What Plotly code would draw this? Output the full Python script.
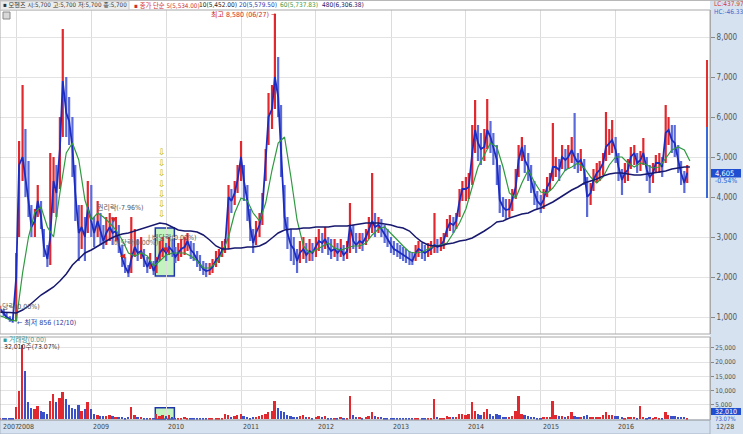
import plotly.graph_objects as go
import pandas as pd

# ---------------- data ----------------
# semi-monthly periods (1st / 15th), Oct-2007 .. Dec-2016
dates = pd.date_range('2007-10-15', '2016-12-15', freq='SMS')

close = (
    [1200, 1100, 1000, 950, 900] +
    [2000, 4800, 5000, 4500, 3900, 3250, 3400, 3900, 3500, 2750, 2450, 3000, 4400, 4100, 5200, 6900, 6100, 5900, 5250, 4100, 3100, 3250, 3000, 3750] +
    [3400, 3100, 3400, 3150, 2900, 3100, 3250, 3100, 3150, 2850, 2450, 2250, 2100, 2450, 2750, 2600, 2650, 2450, 2250, 2400, 2150, 2350, 2600, 2700] +
    [2600, 2750, 2650, 2500, 2600, 2700, 2750, 2900, 2675, 2600, 2425, 2325, 2200, 2150, 2175, 2250, 2425, 2500, 2675, 2750, 4000, 3900, 4100, 4425] +
    [5000, 4400, 3900, 3250, 2850, 3100, 3300, 3700, 4800, 6000, 6200, 7000, 6500, 5200, 3500, 3100, 2800, 2700, 2400, 2600, 2700, 2550, 2650, 2600] +
    [2750, 2900, 2850, 2950, 2750, 2650, 2700, 2600, 2700, 2550, 2650, 3300, 2900, 2800, 2900, 2850, 3000, 3200, 3400, 3250, 3300, 3200, 3050, 2950] +
    [2800, 2700, 2650, 2600, 2550, 2500, 2450, 2400, 2600, 2700, 2650, 2600, 2650, 2700, 2800, 2750, 2800, 2900, 3200, 3350, 3300, 3400, 3900, 4200] +
    [4200, 4250, 5100, 5675, 5350, 5200, 5250, 5675, 5500, 5250, 4925, 3925, 3750, 3675, 3700, 3925, 4250, 4925, 5250, 4925, 4750, 4425, 4100, 3900] +
    [3800, 3925, 4250, 4375, 4750, 4750, 4675, 5000, 4925, 5000, 5175, 5000, 4850, 4925, 4675, 4000, 4100, 4425, 4600, 4675, 4850, 5250, 5350, 5425] +
    [5175, 4750, 4425, 4600, 4675, 5000, 5100, 4850, 4925, 5100, 4675, 4500, 4600, 4850, 4850, 4750, 5600, 5675, 5425, 5350, 4925, 4600, 4350, 4605]
)
high = (
    [1280, 1200, 1100, 1020, 960] +
    [2600, 5400, 6800, 5700, 4900, 3800, 3700, 4300, 3900, 3200, 2800, 5100, 5000, 4800, 6000, 8200, 7000, 6500, 6000, 4800, 3800, 3800, 3500, 4400] +
    [4300, 3500, 3900, 3600, 3300, 3500, 3600, 3500, 3500, 3300, 2800, 2500, 2300, 3500, 3200, 2950, 3000, 2700, 2500, 2600, 2400, 2500, 2900, 3000] +
    [2850, 3000, 2950, 2750, 2850, 2950, 3000, 3100, 2900, 2850, 2650, 2550, 2400, 2350, 2350, 2450, 2650, 2700, 2900, 2950, 4300, 4200, 4400, 4800] +
    [5400, 4800, 4300, 3700, 3200, 3400, 3600, 4100, 5200, 6600, 6800, 8580, 7500, 6300, 4300, 3500, 3200, 3000, 2700, 2900, 3000, 2850, 2950, 2850] +
    [3000, 3200, 3100, 3250, 3000, 2950, 2950, 2850, 2950, 2800, 2900, 3850, 3300, 3100, 3100, 3100, 3200, 3500, 4600, 3600, 3500, 3450, 3300, 3200] +
    [3000, 2900, 2850, 2800, 2750, 2700, 2650, 2600, 2800, 2900, 2850, 2800, 2850, 2900, 3600, 2950, 3000, 3100, 3450, 3550, 3500, 3600, 4200, 4400] +
    [4500, 4600, 5800, 6425, 5800, 5600, 5700, 6450, 5900, 5600, 5300, 4800, 4000, 3950, 3950, 4200, 4700, 5300, 5500, 5300, 5100, 4800, 4400, 4150] +
    [4050, 4200, 4500, 4600, 5850, 5000, 4950, 5300, 5200, 5300, 5500, 6100, 5100, 5200, 4950, 4500, 4350, 4700, 4850, 4900, 5100, 6125, 5700, 5925] +
    [5500, 5100, 4700, 4850, 4950, 5250, 5300, 5100, 5150, 5475, 5000, 4800, 4850, 5050, 5100, 5000, 6300, 6000, 5800, 5800, 5300, 4900, 4650, 4800]
)
low = (
    [1120, 1020, 950, 880, 856] +
    [900, 3000, 4400, 4000, 3500, 3000, 3000, 3500, 3200, 2500, 2250, 2300, 3600, 3500, 4200, 5500, 5500, 5300, 4500, 3400, 2400, 2700, 2400, 3100] +
    [3000, 2750, 3000, 2800, 2700, 2800, 2900, 2800, 2900, 2600, 2250, 2100, 2000, 2100, 2500, 2400, 2450, 2250, 2100, 2200, 2050, 2100, 2400, 2500] +
    [2400, 2550, 2500, 2350, 2400, 2500, 2550, 2650, 2450, 2400, 2250, 2150, 2050, 2000, 2050, 2100, 2250, 2350, 2500, 2600, 2700, 3600, 3800, 4100] +
    [4400, 3900, 3400, 2900, 2600, 2800, 3000, 3300, 4400, 5300, 5700, 6200, 6000, 4500, 3200, 2700, 2400, 2300, 2100, 2350, 2450, 2350, 2400, 2400] +
    [2500, 2650, 2600, 2700, 2550, 2450, 2500, 2400, 2500, 2400, 2450, 2600, 2700, 2600, 2700, 2650, 2800, 2950, 3100, 3000, 3100, 3000, 2850, 2750] +
    [2600, 2550, 2500, 2450, 2400, 2350, 2300, 2300, 2400, 2500, 2450, 2400, 2500, 2550, 2600, 2600, 2650, 2700, 3000, 3150, 3100, 3200, 3500, 3900] +
    [3900, 3950, 4300, 5100, 4900, 4800, 4900, 5200, 5100, 4800, 4300, 3600, 3500, 3450, 3500, 3650, 3950, 4500, 4900, 4600, 4400, 4100, 3800, 3700] +
    [3600, 3700, 4000, 4150, 4400, 4500, 4400, 4700, 4650, 4700, 4850, 4700, 4600, 4650, 4300, 3500, 3800, 4150, 4350, 4400, 4550, 4900, 5050, 5100] +
    [4850, 4400, 4050, 4350, 4400, 4700, 4800, 4600, 4650, 4800, 4400, 4100, 4350, 4600, 4600, 4500, 4850, 5300, 5100, 5000, 4600, 4300, 4100, 4350]
)
volume_k = (
    [300, 250, 300, 400, 500] +
    [4300, 10000, 26000, 17000, 6000, 4000, 3500, 4500, 3000, 2500, 2000, 6500, 9000, 6000, 7500, 9500, 7000, 5000, 4000, 3500, 5000, 3000, 3500, 6000] +
    [3500, 2000, 1500, 1200, 1000, 1200, 1500, 1000, 900, 800, 700, 600, 800, 4300, 1500, 800, 700, 600, 500, 500, 600, 1800, 1200, 1500] +
    [1000, 1400, 800, 500, 400, 500, 800, 500, 400, 350, 300, 300, 300, 300, 300, 400, 500, 500, 600, 1800, 1500, 800, 1000, 1500] +
    [2000, 1200, 800, 600, 700, 800, 1000, 1500, 2000, 2500, 3000, 6500, 4000, 3000, 2500, 1500, 1000, 800, 900, 1200, 1500, 900, 700, 600] +
    [800, 1200, 700, 1000, 600, 500, 600, 500, 700, 500, 600, 8000, 1500, 800, 700, 600, 900, 1200, 2500, 1000, 800, 700, 500, 400] +
    [400, 350, 300, 300, 300, 250, 300, 350, 500, 600, 400, 350, 400, 600, 7000, 800, 500, 600, 1200, 900, 700, 900, 2000, 1800] +
    [1500, 1800, 6000, 3000, 2000, 1500, 2500, 3500, 1800, 1200, 2000, 1500, 900, 700, 800, 1200, 3000, 8000, 2000, 1500, 1000, 900, 700, 600] +
    [600, 800, 700, 700, 6500, 1500, 1000, 1200, 900, 1000, 2500, 1200, 800, 900, 1000, 1500, 900, 800, 700, 800, 1500, 2500, 1500, 1500] +
    [1200, 1000, 700, 600, 900, 800, 700, 600, 4500, 700, 600, 700, 600, 700, 600, 600, 2500, 1500, 1200, 1000, 800, 900, 700, 600]
)

# monthly moving-average lines
ma_dates = list(pd.date_range('2007-10-01', '2016-12-01', freq='MS')) + [pd.Timestamp('2016-12-28')]
ma60 = (
    [1050, 1000, 930] +
    [900, 2100, 3000, 3625, 3750, 3250, 3000, 4100, 5100, 5350, 4925, 3925] +
    [3425, 3600, 3500, 3350, 3175, 2925, 2600, 2525, 2600, 2525, 2275, 2400] +
    [2550, 2600, 2600, 2600, 2525, 2400, 2225, 2225, 2350, 2600, 3000, 3600] +
    [3975, 3900, 3600, 3400, 3850, 4675, 5350, 5500, 4500, 3425, 2775, 2600] +
    [2675, 2775, 2850, 2725, 2675, 2725, 2775, 2775, 2850, 3050, 3200, 3250] +
    [3100, 2925, 2775, 2625, 2600, 2625, 2700, 2775, 2800, 2850, 3100, 3350] +
    [3700, 4250, 4750, 5050, 5350, 5250, 4750, 4100, 3975, 4350, 4675, 4375] +
    [4125, 4100, 4225, 4450, 4675, 4750, 4850, 4725, 4500, 4350, 4500, 4800] +
    [5000, 5000, 4850, 4750, 4850, 4800, 4725, 4750, 4975, 5175, 5250, 5175] +
    [4900]
)
ma480 = (
    [1125, 1125, 1110] +
    [1100, 1175, 1275, 1425, 1550, 1650, 1750, 1900, 2075, 2300, 2450, 2600] +
    [2675, 2775, 2850, 2950, 3025, 3075, 3100, 3150, 3200, 3250, 3300, 3350] +
    [3325, 3250, 3175, 3150, 3150, 3125, 3050, 2925, 2775, 2700, 2700, 2725] +
    [2725, 2750, 2750, 2775, 2850, 2975, 3100, 3175, 3200, 3200, 3225, 3225] +
    [3250, 3250, 3250, 3275, 3275, 3275, 3300, 3325, 3350, 3350, 3350, 3325] +
    [3300, 3250, 3225, 3150, 3000, 2875, 2800, 2775, 2775, 2825, 2850, 2900] +
    [2925, 2975, 3050, 3150, 3250, 3375, 3400, 3475, 3525, 3575, 3600, 3675] +
    [3725, 3800, 3875, 3975, 4075, 4175, 4250, 4350, 4400, 4450, 4525, 4575] +
    [4600, 4600, 4575, 4550, 4550, 4575, 4600, 4625, 4650, 4700, 4725, 4750] +
    [4750]
)

year_ticks = [f'{y}-01-01' for y in range(2008, 2017)]
year_labels = [str(y) for y in range(2008, 2017)]
price_ticks = [1000, 2000, 3000, 4000, 5000, 6000, 7000, 8000]
vol_ticks = [5000, 10000, 15000, 20000, 25000]
last_price = 4605
box_dates = ['2009-11-09', '2010-02-10']
box_price = [2025, 3225]
box_vol = [0, 4000]
range_bar_red = [5750, 7425]
range_bar_blue = [3975, 5750]

# ---------------- geometry helpers ----------------
W, H = 743, 434
MR, MT, MB = 33, 10, 14
PW, PH = W - MR, H - MT - MB


def px(x):
    return x / PW


def py(y):
    return (H - MB - y) / PH


KR = 'DejaVu Sans Condensed, Liberation Sans Narrow, Noto Sans CJK KR, sans-serif'
NUM = 'DejaVu Sans Condensed, Liberation Sans Narrow, DejaVu Sans, sans-serif'
RED, GREEN, NAVY = '#e0282e', '#2f9a40', '#17186e'

fig = go.Figure()

# high-low segments coloured by direction
ux, uy, dx, dy = [], [], [], []
for i, d in enumerate(dates):
    up = i == 0 or close[i] >= close[i - 1]
    (ux if up else dx).extend([d, d, None])
    (uy if up else dy).extend([low[i], high[i], None])
fig.add_trace(go.Scatter(x=ux, y=uy, mode='lines', line=dict(color=RED, width=2.2),
                         hoverinfo='skip', showlegend=False))
fig.add_trace(go.Scatter(x=dx, y=dy, mode='lines', line=dict(color='#5a6ad8', width=2.2),
                         hoverinfo='skip', showlegend=False))
fig.add_trace(go.Scatter(x=dates, y=close, mode='lines', line=dict(color='#1c2cc0', width=1.8),
                         showlegend=False))
fig.add_trace(go.Scatter(x=ma_dates, y=ma60, mode='lines', line=dict(color=GREEN, width=1.2),
                         showlegend=False))
fig.add_trace(go.Scatter(x=ma_dates, y=ma480, mode='lines', line=dict(color=NAVY, width=1.5),
                         showlegend=False))

vcol = [RED if (i == 0 or close[i] >= close[i - 1]) else '#3a50c8' for i in range(len(close))]
fig.add_trace(go.Bar(x=dates, y=volume_k, marker=dict(color=vcol, line=dict(width=0)),
                     width=9 * 86400000, xaxis='x2', yaxis='y2', showlegend=False))

axis_font = dict(family=NUM, size=8, color='#555')
fig.update_layout(
    width=W, height=H, margin=dict(l=0, r=MR, t=MT, b=MB),
    paper_bgcolor='white', plot_bgcolor='white', bargap=0,
    xaxis=dict(domain=[0, 1], anchor='y', range=['2007-10-14', '2017-04-05'],
               tickvals=year_ticks, showticklabels=False, showgrid=True,
               gridcolor='#dcdcdc', gridwidth=1, zeroline=False, ticks=''),
    xaxis2=dict(domain=[0, 1], anchor='y2', matches='x', range=['2007-10-14', '2017-04-05'],
                tickvals=year_ticks, showticklabels=False, showgrid=True,
                gridcolor='#dcdcdc', zeroline=False, ticks=''),
    yaxis=dict(domain=[py(334), 1], range=[575, 8675], side='right', tickvals=price_ticks,
               tickformat=',', ticks='outside', ticklen=4, tickcolor='#888',
               tickfont=axis_font, gridcolor='#e3e3e3', zeroline=False,
               showline=True, linecolor='#a8a8a8'),
    yaxis2=dict(domain=[0, py(337)], range=[-250, 28780], side='right', tickvals=vol_ticks,
                tickformat=',', ticksuffix='K', ticks='outside', ticklen=3, tickcolor='#888',
                tickfont=dict(family=NUM, size=6.5, color='#555'),
                gridcolor='#e3e3e3', zeroline=False, showline=True, linecolor='#a8a8a8'),
)

STRIP = '#d6e2ef'
shapes = [
    # right axis strip and bottom date strip
    dict(type='rect', xref='paper', yref='paper', x0=1, x1=W / PW, y0=py(H), y1=py(0),
         fillcolor=STRIP, line=dict(width=0), layer='below'),
    dict(type='rect', xref='paper', yref='paper', x0=0, x1=1, y0=py(H), y1=0,
         fillcolor=STRIP, line=dict(color='#a8b4c4', width=1), layer='below'),
    # panel borders
    dict(type='rect', xref='paper', yref='paper', x0=0, x1=1, y0=py(334), y1=1,
         line=dict(color='#a8a8a8', width=1)),
    dict(type='rect', xref='paper', yref='paper', x0=0, x1=1, y0=0, y1=py(337),
         line=dict(color='#a8a8a8', width=1)),
    dict(type='line', xref='paper', yref='paper', x0=0, x1=W / PW, y0=py(0.5), y1=py(0.5),
         line=dict(color='#b8b8b8', width=1)),
    # header first block
    dict(type='rect', xref='paper', yref='paper', x0=px(0.5), x1=px(129), y0=py(10), y1=py(1),
         fillcolor='#ececec', line=dict(color='#c8c8c8', width=1)),
    # small icon
    dict(type='rect', xref='paper', yref='paper', x0=px(3), x1=px(10), y0=py(19), y1=py(12),
         fillcolor='#d8d8d8', line=dict(color='#888', width=1)),
    # highlight boxes
    dict(type='rect', xref='x', yref='y', x0=box_dates[0], x1=box_dates[1],
         y0=box_price[0], y1=box_price[1], fillcolor='rgba(175,240,170,0.75)',
         line=dict(color='#1d35a8', width=1.5), layer='below'),
    dict(type='rect', xref='x2', yref='y2', x0=box_dates[0], x1=box_dates[1],
         y0=box_vol[0], y1=box_vol[1], fillcolor='rgba(175,240,170,0.75)',
         line=dict(color='#1d35a8', width=1.5), layer='below'),
    # current range bar near the axis
    dict(type='line', xref='paper', yref='y', x0=px(707), x1=px(707),
         y0=range_bar_red[0], y1=range_bar_red[1], line=dict(color='#e03030', width=2)),
    dict(type='line', xref='paper', yref='y', x0=px(707), x1=px(707),
         y0=range_bar_blue[0], y1=range_bar_blue[1], line=dict(color='#3a6ad8', width=2)),
    # value tags on the strip
    dict(type='rect', xref='paper', yref='paper', x0=px(711), x1=px(741),
         y0=py(177.5), y1=py(169), fillcolor='#1f4fd0', line=dict(width=0)),
    dict(type='rect', xref='paper', yref='paper', x0=px(711), x1=px(741),
         y0=py(415), y1=py(408), fillcolor='#1f4fd0', line=dict(width=0)),
]
fig.update_layout(shapes=shapes)

ann = []


def text(x, y, s, color='#444', size=7, anchor='left', family=KR):
    ann.append(dict(x=px(x), y=py(y), xref='paper', yref='paper', text=s, showarrow=False,
                    xanchor=anchor, yanchor='middle', font=dict(family=family, size=size, color=color)))


# header legend
text(1, 5.5, '▪ 모헨즈 시:5,700 고:5,700 저:5,700 종:5,700', '#333', 6.2)
text(132, 5.5, '▪ 종가 단순 5(5,534.00)', '#d03030', 6.3)
text(197, 5.5, '10(5,452.00)', '#222', 6.5)
text(237, 5.5, '20(5,579.50)', '#2a3cb0', 6.5)
text(278, 5.5, '60(5,737.83)', '#3a9a48', 6.5)
text(320, 5.5, '480(6,306.38)', '#17186e', 6.5)
text(712, 4.5, 'LC:437.97', '#d03a3a', 6.5)
text(712, 12, 'HC:-46.33', '#3a6ad0', 6.5)
text(278, 14.5, '최고 8,580 (06/27) →', '#d02828', 7, anchor='right')
# chart markers
text(0, 306, '당락(0.00%)', '#555', 7)
text(15, 322.5, '← 최저 856 (12/10)', '#2a3aa0', 7)
text(95, 207, '권리락(-7.96%)', '#555', 7)
text(112, 242, '배당락(0.00%)', '#666', 7)
text(146, 237, '| 배당락(0.00%)', '#555', 7)
text(114, 220, '▼', '#e02020', 7, anchor='center', family='DejaVu Sans')
text(166, 250, '▼', '#e02020', 7, anchor='center', family='DejaVu Sans')
text(123, 256, '◀', '#e02020', 7, anchor='center', family='DejaVu Sans')
for yy in [152, 162.5, 173, 183.5, 194, 204, 214]:
    text(162, yy, '⇩', '#b8b400', 9, anchor='center', family='DejaVu Sans')
# volume panel labels
text(1, 339.8, '▪ 거래량(0.00)', '#3a9a9a', 6.8)
text(2, 347.3, '32,010주(73.07%)', '#333', 6.8)
# current value tags on the axis strip
text(713, 173.5, '4,605', 'white', 7.5, family=NUM)
text(713, 181, '-0.54%', '#2a5ad0', 7, family=NUM)
text(713, 411.7, '32,010', 'white', 7, family=NUM)
text(713, 418.5, '73.07%', '#2a5ad0', 6, family=NUM)
# date labels
text(0.5, 427, '2007', '#444', 7, family=NUM)
for d, lab in zip(year_ticks, year_labels):
    ann.append(dict(x=d, y=py(427), xref='x', yref='paper', text=lab, showarrow=False,
                    xanchor='left', yanchor='middle', xshift=0,
                    font=dict(family=NUM, size=7, color='#444')))
text(714, 427, '12/28', '#444', 7, family=NUM)
fig.update_layout(annotations=ann)

fig.write_html('out.html')
